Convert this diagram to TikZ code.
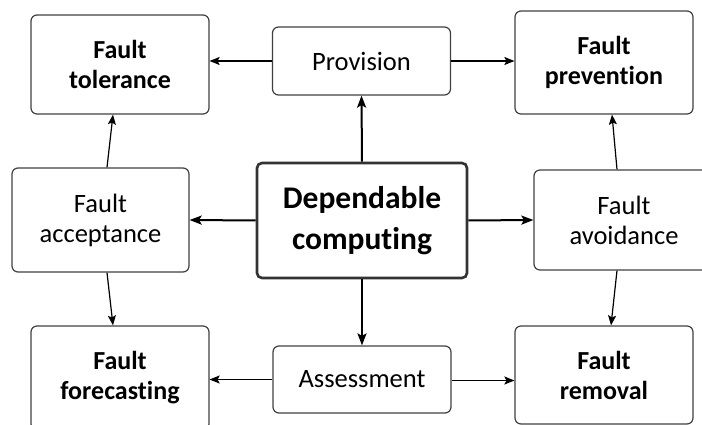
\documentclass[tikz,border=0pt]{standalone}
\usepackage{fontspec}
\setsansfont{Carlito}[RawFeature=-liga]
\usepackage{tikz}
\usetikzlibrary{arrows.meta}
\tikzstyle{block}=[rectangle, draw=black!75, line width=1.2pt, rounded corners=6pt, align=center, minimum width=178pt, inner sep=2pt]
\tikzstyle{fault}=[block, minimum height=100pt, font=\sffamily\bfseries\fontsize{26pt}{30pt}\selectfont]
\tikzstyle{means}=[block, font=\sffamily\fontsize{26.5pt}{30pt}\selectfont]
\tikzstyle{core}=[block, draw=black!80, line width=2.6pt, rounded corners=5pt, minimum width=210pt, minimum height=115pt, font=\sffamily\bfseries\fontsize{31.5pt}{41pt}\selectfont]

\begin{document}
\begin{tikzpicture}[x=1pt, y=-1pt]

\tikzset{>={Stealth[length=10pt, width=8pt, inset=2pt]}}
\tikzset{link/.style={->, line width=1.2pt}}
\tikzset{spoke/.style={->, line width=2pt, >={Stealth[length=12pt, width=9pt, inset=2.5pt]}}}

\useasboundingbox (0,0) rectangle (702,425);

% Centre
\node[core] (dep) at (362,220.5) {Dependable\\computing};

% Means
\node[means, minimum height=68pt] (prov) at (361.5,61) {Provision};
\node[means, minimum height=67pt] (ass) at (362,379.5) {Assessment};
\node[means, minimum width=177pt, minimum height=104pt] (acc) at (100.5,220) {Fault\\acceptance};
\node[means, minimum width=180pt, minimum height=100pt] (avo) at (624,220) {Fault\\avoidance};

% Fault handling
\node[fault, minimum height=99pt] (tol) at (120,64.5) {Fault\\tolerance};
\node[fault, minimum height=103pt] (prev) at (604,62.5) {Fault\\prevention};
\node[fault, minimum height=104pt] (fore) at (120,378) {Fault\\forecasting};
\node[fault, minimum height=98pt] (rem) at (604,375) {Fault\\removal};

% Arrows out of the centre
\draw[spoke] (dep.north) -- (prov.south);
\draw[spoke] (dep.south) -- (ass.north);
\draw[spoke] (dep.west) -- (acc.east);
\draw[spoke] (dep.east) -- (avo.west);

% Side arrows
\draw[link] (prov.west) -- (prov.west -| tol.east);
\draw[link] (prov.east) -- (prov.east -| prev.west);
\draw[link] (ass.west) -- (ass.west -| fore.east);
\draw[link] ([yshift=-1pt]ass.east) -- ([yshift=-1pt]ass.east -| rem.west);
\draw[link] ([xshift=6.5pt]acc.north) -- ([xshift=-7pt]tol.south);
\draw[link] ([xshift=6.5pt]acc.south) -- ([xshift=-7pt]fore.north);
\draw[link] ([xshift=-7pt]avo.north) -- ([xshift=8pt]prev.south);
\draw[link] ([xshift=-7pt]avo.south) -- ([xshift=7pt]rem.north);

\end{tikzpicture}
\end{document}
